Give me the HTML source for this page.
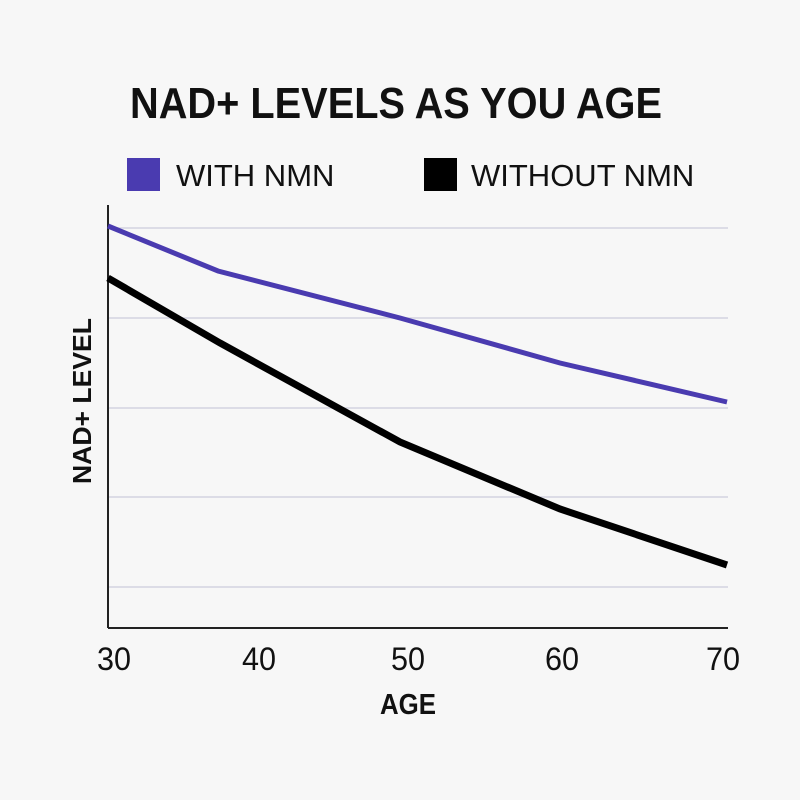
<!DOCTYPE html>
<html><head><style>
html,body{margin:0;padding:0;background:#f7f7f7;}
svg{display:block;}
text{font-family:"Liberation Sans","DejaVu Sans",sans-serif;}
</style></head><body>
<svg width="800" height="800" viewBox="0 0 800 800">
<rect width="800" height="800" fill="#f7f7f7"/>
<text x="130" y="118" font-size="44" font-weight="bold" fill="#111" textLength="532" lengthAdjust="spacingAndGlyphs">NAD+ LEVELS AS YOU AGE</text>
<rect x="127" y="158" width="33" height="33" fill="#4a3bb0"/>
<text x="176" y="186" font-size="31" fill="#111">WITH NMN</text>
<rect x="424" y="158" width="33" height="33" fill="#000"/>
<text x="471" y="186" font-size="31" fill="#111">WITHOUT NMN</text>
<g stroke="#d4d4e0" stroke-width="1.5">
<line x1="108" y1="228" x2="728" y2="228"/>
<line x1="108" y1="318" x2="728" y2="318"/>
<line x1="108" y1="408" x2="728" y2="408"/>
<line x1="108" y1="497" x2="728" y2="497"/>
<line x1="108" y1="587" x2="728" y2="587"/>
</g>
<line x1="108" y1="205" x2="108" y2="628" stroke="#222" stroke-width="2"/>
<line x1="108" y1="628" x2="728" y2="628" stroke="#222" stroke-width="2"/>
<polyline points="108,226 218,271 400,318 560,363 727,402" fill="none" stroke="#4a3bb0" stroke-width="5"/>
<polyline points="108,278 220,343 400,442 560,509 727,565" fill="none" stroke="#000" stroke-width="7"/>
<g font-size="32" fill="#111">
<text x="97" y="670" textLength="34" lengthAdjust="spacingAndGlyphs">30</text>
<text x="242" y="670" textLength="34" lengthAdjust="spacingAndGlyphs">40</text>
<text x="391" y="670" textLength="34" lengthAdjust="spacingAndGlyphs">50</text>
<text x="545" y="670" textLength="34" lengthAdjust="spacingAndGlyphs">60</text>
<text x="706" y="670" textLength="34" lengthAdjust="spacingAndGlyphs">70</text>
</g>
<text x="380" y="714" font-size="29" font-weight="bold" fill="#111" textLength="56" lengthAdjust="spacingAndGlyphs">AGE</text>
<text transform="translate(91,401) rotate(-90)" text-anchor="middle" font-size="26" font-weight="bold" fill="#111" textLength="166" lengthAdjust="spacingAndGlyphs">NAD+ LEVEL</text>
</svg>
</body></html>
